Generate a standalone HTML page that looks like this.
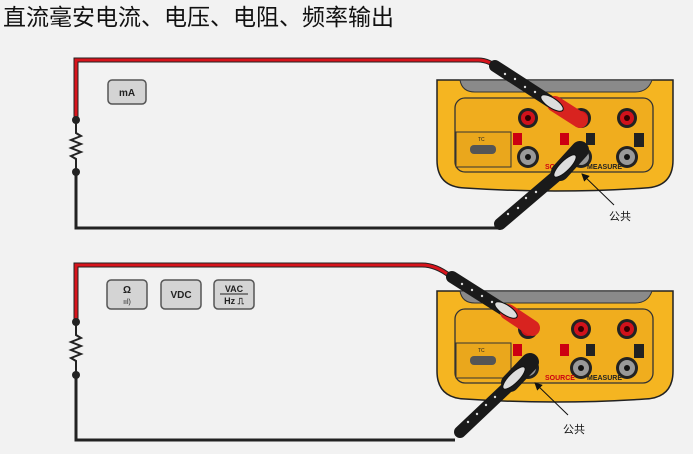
<!DOCTYPE html>
<html><head><meta charset="utf-8"><style>
body{margin:0;background:#f2f2f2;}
svg{display:block}
</style></head><body>
<svg width="693" height="454" viewBox="0 0 693 454" xmlns="http://www.w3.org/2000/svg" font-family="Liberation Sans, Noto Sans CJK SC, sans-serif">
<rect width="693" height="454" fill="#f2f2f2"/>
<text x="3" y="25" font-size="23" fill="#111" font-family="Liberation Sans, Noto Sans CJK SC, sans-serif">直流毫安电流、电压、电阻、频率输出</text>

<defs>
<marker id="ah" markerWidth="8" markerHeight="8" refX="7" refY="4" orient="auto"><path d="M0 0 L8 4 L0 8 Z" fill="#111"/></marker>
<g id="meter">
  <path d="M437 80 H673 V160 Q673 187 645 188 Q555 194 465 188 Q437 187 437 160 Z" fill="#f5b521" stroke="#222" stroke-width="1.5"/>
  <path d="M460 80 H652 Q648 92 635 92 H475 Q462 92 460 80 Z" fill="#8a8a8a" stroke="#333"/>
  <rect x="455" y="98" width="198" height="74" rx="10" fill="#f0ad1e" stroke="#333" stroke-width="1.3"/>
  <rect x="456" y="132" width="55" height="35" fill="#eaa71c" stroke="#333"/>
  <rect x="470" y="145" width="26" height="9" rx="4" fill="#555"/>
  <text x="478" y="141" font-size="5" fill="#222">TC</text>
  <circle cx="528" cy="118" r="10" fill="#222"/><circle cx="528" cy="118" r="7" fill="#d0121b"/><circle cx="528" cy="118" r="3" fill="#300"/>
  <circle cx="627" cy="118" r="10" fill="#222"/><circle cx="627" cy="118" r="7" fill="#d0121b"/><circle cx="627" cy="118" r="3" fill="#300"/>
  <circle cx="581" cy="118" r="10" fill="#222"/><circle cx="581" cy="118" r="7" fill="#d0121b"/><circle cx="581" cy="118" r="3" fill="#300"/>
  <circle cx="528" cy="157" r="11" fill="#222"/><circle cx="528" cy="157" r="8" fill="#999"/><circle cx="528" cy="157" r="3" fill="#111"/>
  <circle cx="627" cy="157" r="11" fill="#222"/><circle cx="627" cy="157" r="8" fill="#999"/><circle cx="627" cy="157" r="3" fill="#111"/>
  <circle cx="581" cy="157" r="11" fill="#222"/><circle cx="581" cy="157" r="8" fill="#999"/><circle cx="581" cy="157" r="3" fill="#111"/>
  <rect x="513" y="133" width="9" height="12" fill="#c01"/>
  <rect x="560" y="133" width="9" height="12" fill="#c01"/>
  <rect x="586" y="133" width="9" height="12" fill="#222"/>
  <rect x="634" y="133" width="10" height="14" fill="#222"/>
  <text x="545" y="169" font-size="7" font-weight="bold" fill="#c01">SOURCE</text>
  <text x="587" y="169" font-size="7" font-weight="bold" fill="#222">MEASURE</text>
</g>
</defs>

<!-- top circuit -->
<use href="#meter"/>
<path d="M76 120 V60 H478 Q490 60 500 70" fill="none" stroke="#222" stroke-width="5"/>
<path d="M76 120 V60 H478 Q490 60 500 70" fill="none" stroke="#d8141c" stroke-width="3"/>
<path d="M76 172 V228 H498" fill="none" stroke="#222" stroke-width="3"/>
<path d="M76 120 V133 l5 3 l-10 4 l10 4 l-10 4 l10 4 l-10 4 l5 3 V172" fill="none" stroke="#222" stroke-width="2"/>
<circle cx="76" cy="120" r="4" fill="#222"/><circle cx="76" cy="172" r="4" fill="#222"/>
<rect x="108" y="80" width="38" height="24" rx="4" fill="#d4d4d4" stroke="#555" stroke-width="1.5"/>
<text x="127" y="96" font-size="10" font-weight="bold" text-anchor="middle" fill="#222">mA</text>
<line x1="495" y1="66" x2="560" y2="108" stroke="#1a1a1a" stroke-width="12" stroke-linecap="round"/>
<g fill="#ddd"><circle cx="505" cy="74" r="1.2"/><circle cx="515" cy="79" r="1.2"/><circle cx="525" cy="87" r="1.2"/><circle cx="535" cy="92" r="1.2"/></g>
<line x1="555" y1="104" x2="580" y2="120" stroke="#d8231f" stroke-width="16" stroke-linecap="round"/>
<ellipse cx="552" cy="103" rx="13" ry="5" transform="rotate(33 552 103)" fill="#ddd" stroke="#111"/>
<line x1="500" y1="224" x2="568" y2="166" stroke="#1a1a1a" stroke-width="12" stroke-linecap="round"/>
<g fill="#ddd"><circle cx="508" cy="214" r="1.2"/><circle cx="518" cy="208" r="1.2"/><circle cx="526" cy="198" r="1.2"/><circle cx="536" cy="192" r="1.2"/></g>
<line x1="560" y1="172" x2="580" y2="150" stroke="#1a1a1a" stroke-width="18" stroke-linecap="round"/>
<ellipse cx="565" cy="166" rx="15" ry="5" transform="rotate(-45 565 166)" fill="#ddd" stroke="#111"/>
<line x1="614" y1="205" x2="582" y2="174" stroke="#111" stroke-width="1" marker-end="url(#ah)"/>
<text x="609" y="220" font-size="11" fill="#111">公共</text>

<!-- bottom circuit -->
<use href="#meter" transform="translate(0 211)"/>
<path d="M76 322 V265 H422 Q436 265 450 276" fill="none" stroke="#222" stroke-width="5"/>
<path d="M76 322 V265 H422 Q436 265 450 276" fill="none" stroke="#d8141c" stroke-width="3"/>
<path d="M76 375 V440 H455" fill="none" stroke="#222" stroke-width="3"/>
<path d="M76 322 V335 l5 3 l-10 4 l10 4 l-10 4 l10 4 l-10 4 l5 3 V375" fill="none" stroke="#222" stroke-width="2"/>
<circle cx="76" cy="322" r="4" fill="#222"/><circle cx="76" cy="375" r="4" fill="#222"/>
<rect x="107" y="280" width="40" height="29" rx="4" fill="#d4d4d4" stroke="#555" stroke-width="1.5"/>
<text x="127" y="293" font-size="10" font-weight="bold" text-anchor="middle" fill="#222">Ω</text>
<text x="127" y="304" font-size="7" text-anchor="middle" fill="#222">ııl)</text>
<rect x="161" y="280" width="40" height="29" rx="4" fill="#d4d4d4" stroke="#555" stroke-width="1.5"/>
<text x="181" y="298" font-size="10" font-weight="bold" text-anchor="middle" fill="#222">VDC</text>
<rect x="214" y="280" width="40" height="29" rx="4" fill="#d4d4d4" stroke="#555" stroke-width="1.5"/>
<text x="234" y="292" font-size="9" font-weight="bold" text-anchor="middle" fill="#222">VAC</text>
<line x1="220" y1="294" x2="248" y2="294" stroke="#222"/>
<text x="234" y="304" font-size="9" font-weight="bold" text-anchor="middle" fill="#222">Hz ⎍</text>
<line x1="452" y1="277" x2="512" y2="315" stroke="#1a1a1a" stroke-width="12" stroke-linecap="round"/>
<g fill="#ddd"><circle cx="462" cy="284" r="1.2"/><circle cx="472" cy="290" r="1.2"/><circle cx="482" cy="296" r="1.2"/><circle cx="492" cy="302" r="1.2"/></g>
<line x1="508" y1="312" x2="532" y2="328" stroke="#d8231f" stroke-width="16" stroke-linecap="round"/>
<ellipse cx="506" cy="310" rx="13" ry="5" transform="rotate(33 506 310)" fill="#ddd" stroke="#111"/>
<line x1="460" y1="432" x2="515" y2="380" stroke="#1a1a1a" stroke-width="12" stroke-linecap="round"/>
<g fill="#ddd"><circle cx="468" cy="422" r="1.2"/><circle cx="477" cy="414" r="1.2"/><circle cx="486" cy="405" r="1.2"/><circle cx="495" cy="397" r="1.2"/></g>
<line x1="510" y1="383" x2="530" y2="362" stroke="#1a1a1a" stroke-width="18" stroke-linecap="round"/>
<ellipse cx="514" cy="378" rx="15" ry="5" transform="rotate(-45 514 378)" fill="#ddd" stroke="#111"/>
<line x1="568" y1="415" x2="535" y2="383" stroke="#111" stroke-width="1" marker-end="url(#ah)"/>
<text x="563" y="433" font-size="11" fill="#111">公共</text>
</svg>
</body></html>
